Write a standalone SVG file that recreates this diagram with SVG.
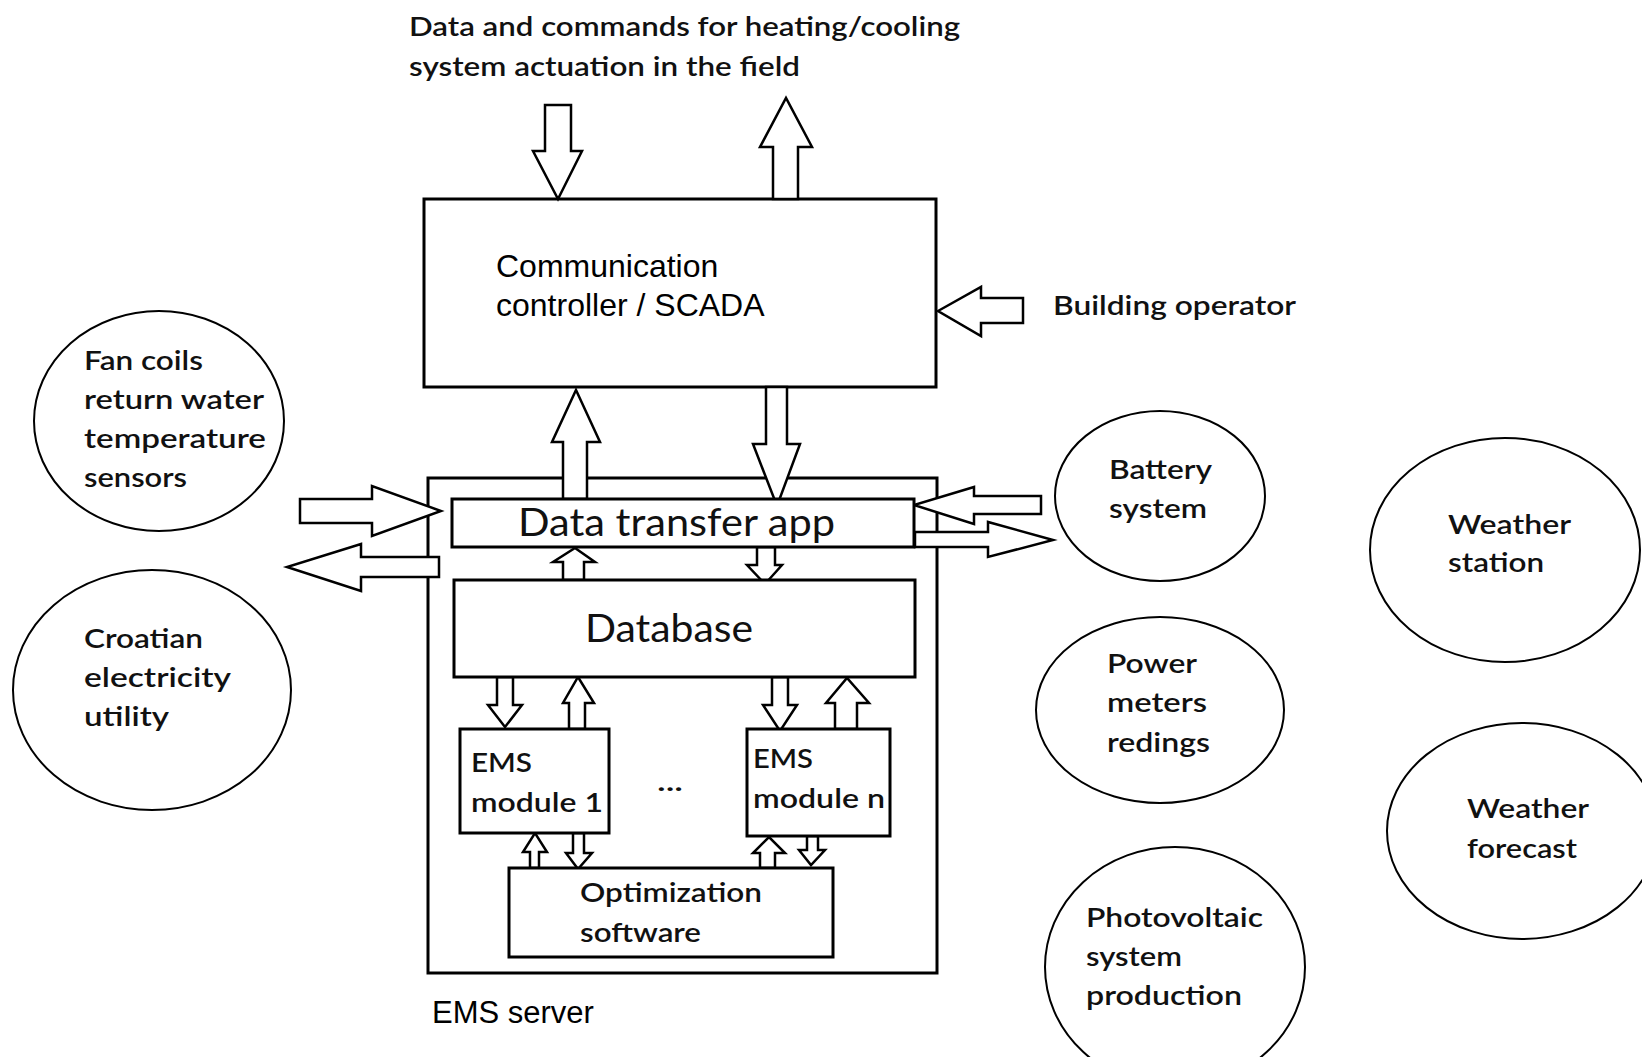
<svg xmlns="http://www.w3.org/2000/svg" width="1642" height="1057" viewBox="0 0 1642 1057">
  <style>
    .box { fill: #fff; stroke: #000; stroke-width: 3; }
    .oval { fill: #fff; stroke: #000; stroke-width: 2; }
    .arrow { fill: #fff; stroke: #000; stroke-width: 2.5; stroke-linejoin: miter; }
    .arial { font-family: "Liberation Sans", Arial, sans-serif; fill: #000; }
    .cal { font-family: Lato, "Open Sans", sans-serif; fill: #111; }
    .small { font-size: 27px; font-weight: 600; }
    .big { font-size: 38px; font-weight: 400; }
  </style>

  <rect width="1642" height="1057" fill="#fff"/>

  <!-- heading text at the top -->
  <g id="field-label">
    <text class="cal small" x="409" y="36" textLength="551" lengthAdjust="spacingAndGlyphs">Data and commands for heating/cooling</text>
    <text class="cal small" x="409" y="76" textLength="391" lengthAdjust="spacingAndGlyphs">system actuation in the field</text>
  </g>

  <!-- EMS server container -->
  <g id="ems-server">
    <rect class="box" x="428" y="478" width="509" height="495"/>
    <text class="arial" x="432" y="1023" font-size="31">EMS server</text>
  </g>

  <g id="scada">
    <rect class="box" x="424" y="199" width="512" height="188"/>
    <text class="arial" x="496" y="277" font-size="32">Communication</text>
    <text class="arial" x="496" y="316" font-size="32">controller / SCADA</text>
  </g>

  <g id="building-operator">
    <text class="cal small" x="1053" y="315" textLength="243" lengthAdjust="spacingAndGlyphs">Building operator</text>
  </g>

  <!-- connectors (block arrows) -->
  <g id="connectors">
    <polygon class="arrow" points="545,105 571,105 571,151 582,151 558,199 533,151 545,151"/>
    <polygon class="arrow" points="773,199 773,147 760,147 786,98 812,147 798,147 798,199"/>
    <polygon class="arrow" points="938,311 981,287 981,298 1023,298 1023,323 981,323 981,336"/>
    <polygon class="arrow" points="563,499 563,442 552,442 576,390 600,442 587,442 587,499"/>
    <polygon class="arrow" points="766,387 787,387 787,444 800,444 777,506 753,444 766,444"/>
    <polygon class="arrow" points="300,499 372,499 372,486 441,511 372,536 372,523 300,523"/>
    <polygon class="arrow" points="439,557 439,577 361,577 361,591 287,567 361,544 361,557"/>
    <polygon class="arrow" points="1041,496 1041,514 974,514 974,524 914,505 974,487 974,496"/>
    <polygon class="arrow" points="915,532 988,532 988,522 1053,540 988,557 988,547 915,547"/>
    <polygon class="arrow" points="563,580 563,562 553,562 575,548 595,562 584,562 584,580"/>
    <polygon class="arrow" points="757,547 775,547 775,565 782,565 765,584 747,565 757,565"/>
    <polygon class="arrow" points="497,677 513,677 513,705 522,705 505,727 488,705 497,705"/>
    <polygon class="arrow" points="569,729 569,703 563,703 578,677 594,703 585,703 585,729"/>
    <polygon class="arrow" points="772,677 788,677 788,705 797,705 780,731 763,705 772,705"/>
    <polygon class="arrow" points="835,729 835,703 826,703 847,678 869,703 857,703 857,729"/>
    <polygon class="arrow" points="530,868 530,852 523,852 535,833 547,852 539,852 539,868"/>
    <polygon class="arrow" points="573,833 584,833 584,853 592,853 578,869 566,853 573,853"/>
    <polygon class="arrow" points="760,868 760,853 753,853 769,837 785,853 775,853 775,868"/>
    <polygon class="arrow" points="807,836 818,836 818,850 825,850 811,865 799,850 807,850"/>
  </g>

  <g id="data-transfer-app">
    <rect class="box" x="452" y="499" width="462" height="48"/>
    <text class="cal big" x="518" y="536" textLength="317" lengthAdjust="spacingAndGlyphs">Data transfer app</text>
  </g>

  <g id="database">
    <rect class="box" x="454" y="580" width="461" height="97"/>
    <text class="cal big" x="585" y="642" textLength="168" lengthAdjust="spacingAndGlyphs">Database</text>
  </g>

  <g id="ems-module-1">
    <rect class="box" x="460" y="729" width="149" height="104"/>
    <text class="cal small" x="471" y="772" textLength="61" lengthAdjust="spacingAndGlyphs">EMS</text>
    <text class="cal small" x="471" y="812" textLength="132" lengthAdjust="spacingAndGlyphs">module 1</text>
  </g>

  <g id="ems-modules-ellipsis">
    <text class="cal small" x="657" y="791" textLength="26" lengthAdjust="spacingAndGlyphs">...</text>
  </g>

  <g id="ems-module-n">
    <rect class="box" x="747" y="729" width="143" height="107"/>
    <text class="cal small" x="753" y="768" textLength="60" lengthAdjust="spacingAndGlyphs">EMS</text>
    <text class="cal small" x="753" y="808" textLength="132" lengthAdjust="spacingAndGlyphs">module n</text>
  </g>

  <g id="optimization-software">
    <rect class="box" x="509" y="868" width="324" height="89"/>
    <text class="cal small" x="580" y="902" textLength="182" lengthAdjust="spacingAndGlyphs">Optimization</text>
    <text class="cal small" x="580" y="942" textLength="121" lengthAdjust="spacingAndGlyphs">software</text>
  </g>

  <!-- external data sources -->
  <g id="fan-coil-sensors">
    <ellipse class="oval" cx="159" cy="421" rx="125" ry="110"/>
    <text class="cal small" x="84" y="370" textLength="119" lengthAdjust="spacingAndGlyphs">Fan coils</text>
    <text class="cal small" x="84" y="409" textLength="180" lengthAdjust="spacingAndGlyphs">return water</text>
    <text class="cal small" x="84" y="448" textLength="182" lengthAdjust="spacingAndGlyphs">temperature</text>
    <text class="cal small" x="84" y="487" textLength="103" lengthAdjust="spacingAndGlyphs">sensors</text>
  </g>

  <g id="electricity-utility">
    <ellipse class="oval" cx="152" cy="690" rx="139" ry="120"/>
    <text class="cal small" x="84" y="648" textLength="119" lengthAdjust="spacingAndGlyphs">Croatian</text>
    <text class="cal small" x="84" y="687" textLength="147" lengthAdjust="spacingAndGlyphs">electricity</text>
    <text class="cal small" x="84" y="726" textLength="85" lengthAdjust="spacingAndGlyphs">utility</text>
  </g>

  <g id="battery-system">
    <ellipse class="oval" cx="1160" cy="496" rx="105" ry="85"/>
    <text class="cal small" x="1109" y="479" textLength="103" lengthAdjust="spacingAndGlyphs">Battery</text>
    <text class="cal small" x="1109" y="518" textLength="98" lengthAdjust="spacingAndGlyphs">system</text>
  </g>

  <g id="power-meters">
    <ellipse class="oval" cx="1160" cy="710" rx="124" ry="93"/>
    <text class="cal small" x="1107" y="673" textLength="90" lengthAdjust="spacingAndGlyphs">Power</text>
    <text class="cal small" x="1107" y="712" textLength="100" lengthAdjust="spacingAndGlyphs">meters</text>
    <text class="cal small" x="1107" y="752" textLength="103" lengthAdjust="spacingAndGlyphs">redings</text>
  </g>

  <g id="pv-production">
    <ellipse class="oval" cx="1175" cy="967" rx="130" ry="120"/>
    <text class="cal small" x="1086" y="927" textLength="177" lengthAdjust="spacingAndGlyphs">Photovoltaic</text>
    <text class="cal small" x="1086" y="966" textLength="96" lengthAdjust="spacingAndGlyphs">system</text>
    <text class="cal small" x="1086" y="1005" textLength="156" lengthAdjust="spacingAndGlyphs">production</text>
  </g>

  <g id="weather-station">
    <ellipse class="oval" cx="1505" cy="550" rx="135" ry="112"/>
    <text class="cal small" x="1448" y="534" textLength="123" lengthAdjust="spacingAndGlyphs">Weather</text>
    <text class="cal small" x="1448" y="572" textLength="96" lengthAdjust="spacingAndGlyphs">station</text>
  </g>

  <g id="weather-forecast">
    <ellipse class="oval" cx="1522" cy="831" rx="135" ry="108"/>
    <text class="cal small" x="1467" y="818" textLength="122" lengthAdjust="spacingAndGlyphs">Weather</text>
    <text class="cal small" x="1467" y="858" textLength="110" lengthAdjust="spacingAndGlyphs">forecast</text>
  </g>
</svg>
